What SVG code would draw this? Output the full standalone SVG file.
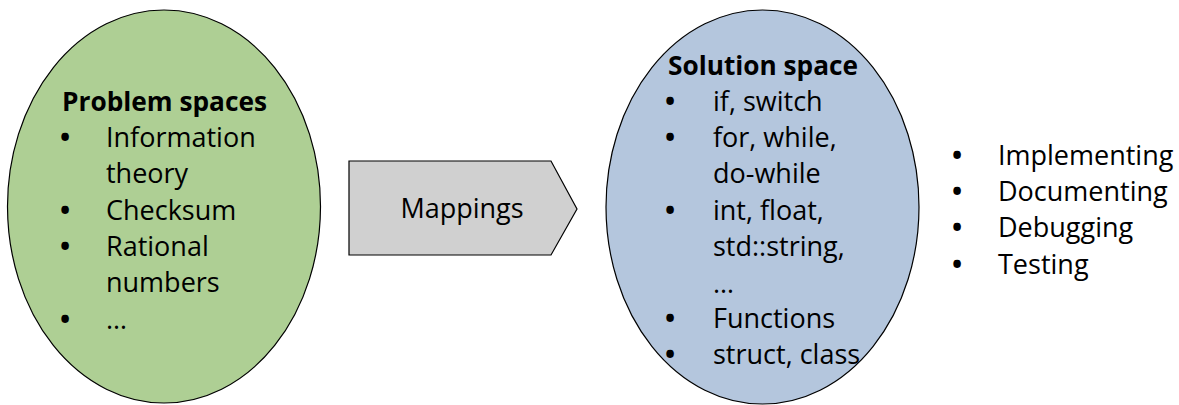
<svg xmlns="http://www.w3.org/2000/svg" width="1179" height="405" viewBox="0 0 1179 405">
<style>
text{font-family:"Open Sans","Noto Sans","DejaVu Sans",sans-serif;font-size:27px;fill:#000}
.h{font-weight:bold}
.b{font-weight:bold}
.shape{stroke:#000;stroke-width:1.2}
</style>
<rect width="1179" height="405" fill="#fff"/>
<g id="problem-spaces">
<ellipse class="shape" cx="164" cy="206.5" rx="156.5" ry="196.5" fill="#aecf94"/>
<text class="h" x="62" y="111" textLength="205" lengthAdjust="spacingAndGlyphs">Problem spaces</text>
<text class="b" x="60" y="147">•</text><text x="106" y="147">Information</text>
<text x="106" y="183">theory</text>
<text class="b" x="60" y="220">•</text><text x="106" y="220">Checksum</text>
<text class="b" x="60" y="256">•</text><text x="106" y="256">Rational</text>
<text x="106" y="292">numbers</text>
<text class="b" x="60" y="329">•</text><text x="106" y="329">…</text>
</g>
<g id="mappings">
<path class="shape" d="M349,161 H551 L577,209 L551,255 H349 Z" fill="#d0d0d0"/>
<text x="462" y="218" text-anchor="middle">Mappings</text>
</g>
<g id="solution-space">
<ellipse class="shape" cx="762.5" cy="207" rx="156.5" ry="197" fill="#b4c6dd"/>
<text class="h" x="668" y="75" textLength="190" lengthAdjust="spacingAndGlyphs">Solution space</text>
<text class="b" x="665" y="111">•</text><text x="713" y="111">if, switch</text>
<text class="b" x="665" y="147">•</text><text x="713" y="147">for, while,</text>
<text x="713" y="183">do-while</text>
<text class="b" x="665" y="220">•</text><text x="713" y="220">int, float,</text>
<text x="713" y="256">std::string,</text>
<text x="713" y="293">…</text>
<text class="b" x="665" y="328">•</text><text x="713" y="328">Functions</text>
<text class="b" x="665" y="364">•</text><text x="713" y="364">struct, class</text>
</g>
<g id="activities">
<text class="b" x="952" y="165">•</text><text x="998" y="165">Implementing</text>
<text class="b" x="952" y="201">•</text><text x="998" y="201">Documenting</text>
<text class="b" x="952" y="237">•</text><text x="998" y="237">Debugging</text>
<text class="b" x="952" y="274">•</text><text x="998" y="274">Testing</text>
</g>
<g id="connectors"></g>
</svg>
